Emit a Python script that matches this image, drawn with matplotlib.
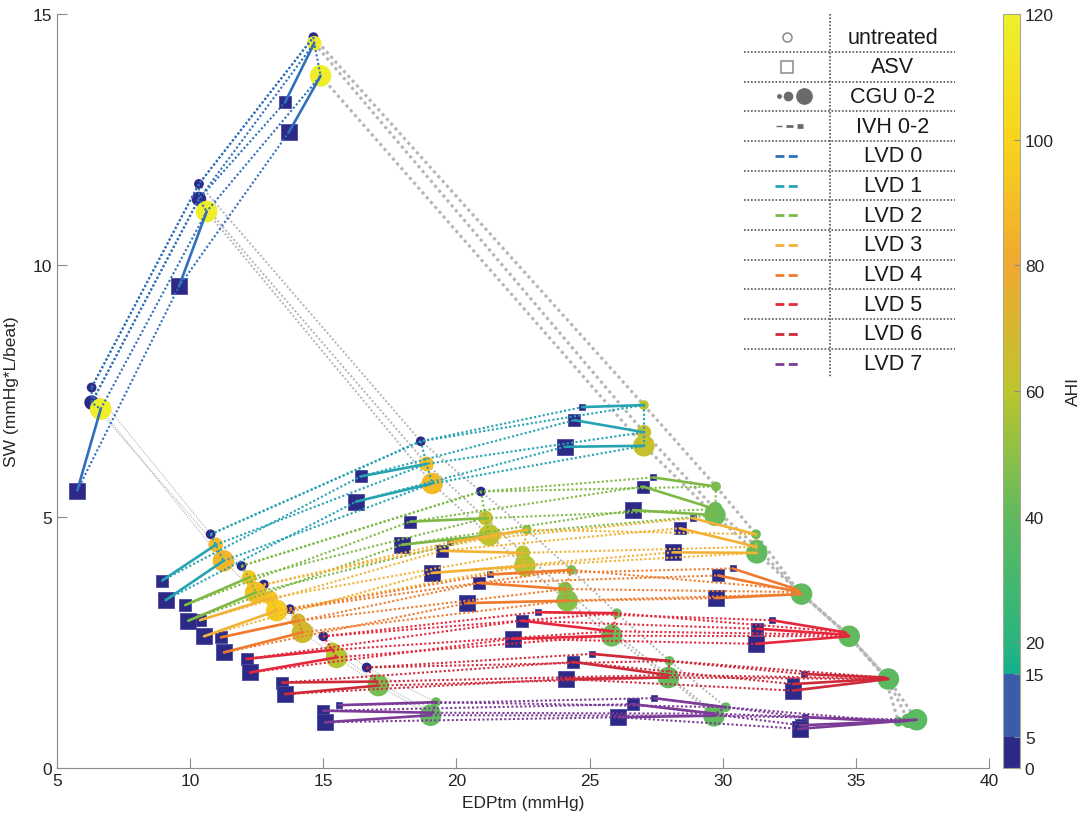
import numpy as np
import matplotlib
matplotlib.use("Agg")
import matplotlib.pyplot as plt
from matplotlib.colors import LinearSegmentedColormap, ListedColormap, Normalize
from matplotlib.cm import ScalarMappable

plt.rcParams["font.family"] = ["Liberation Sans", "DejaVu Sans"]

nan = np.nan

# untreated operating points, indexed [LVD][IVH][CGU]
untreated_edp = np.array([
    [[6.30, 6.30, 6.64], [10.33, 10.33, 10.62], [14.63, 14.66, 14.90]],
    [[10.77, 10.96, 11.25], [18.66, 18.88, 19.09], [27.04, 27.04, 27.04]],
    [[11.93, 12.21, 12.46], [20.92, 21.10, 21.23], [29.75, 29.72, 29.71]],
    [[12.77, 13.02, 13.25], [22.64, 22.49, 22.57], [31.25, 31.27, 31.28]],
    [[13.75, 14.06, 14.22], [24.32, 24.08, 24.16], [32.80, 32.88, 32.96]],
    [[15.00, 15.35, 15.50], [26.02, 25.85, 25.83], [34.60, 34.70, 34.75]],
    [[16.63, 17.00, 17.07], [28.00, 27.95, 27.96], [36.10, 36.18, 36.22]],
    [[19.23, 19.10, 19.03], [30.12, 29.72, 29.67], [36.60, 36.97, 37.28]],
])
untreated_sw = np.array([
    [[7.57, 7.27, 7.14], [11.62, 11.32, 11.07], [14.54, 14.42, 13.77]],
    [[4.65, 4.44, 4.12], [6.50, 6.05, 5.66], [7.22, 6.68, 6.41]],
    [[4.02, 3.79, 3.49], [5.50, 4.97, 4.63], [5.60, 5.15, 5.03]],
    [[3.65, 3.38, 3.13], [4.74, 4.28, 4.02], [4.65, 4.40, 4.28]],
    [[3.16, 2.93, 2.70], [3.94, 3.56, 3.33], [3.55, 3.50, 3.46]],
    [[2.62, 2.35, 2.20], [3.08, 2.72, 2.63], [2.70, 2.65, 2.62]],
    [[2.00, 1.72, 1.64], [2.13, 1.85, 1.80], [1.80, 1.78, 1.77]],
    [[1.31, 1.10, 1.05], [1.21, 1.08, 1.04], [0.92, 0.94, 0.96]],
])
untreated_ahi = np.array([
    [[2, 3, 118], [2, 3, 118], [2, 115, 118]],
    [[2, 88, 86], [2, 90, 88], [62, 64, 63]],
    [[2, 92, 90], [2, 63, 62], [45, 42, 42]],
    [[2, 93, 95], [50, 58, 58], [42, 40, 40]],
    [[2, 70, 67], [45, 48, 48], [40, 40, 40]],
    [[2, 58, 58], [42, 42, 42], [40, 40, 40]],
    [[2, 45, 45], [42, 40, 40], [38, 38, 38]],
    [[42, 40, 40], [40, 40, 40], [38, 38, 38]],
], dtype=float)

# ASV operating points (nan: ASV leaves the point where it was)
asv_edp = np.array([
    [[nan, nan, 5.76], [nan, nan, 9.58], [nan, 13.56, 13.71]],
    [[nan, 8.95, 9.08], [nan, 16.40, 16.23], [24.73, 24.43, 24.08]],
    [[nan, 9.81, 9.93], [nan, 18.26, 17.94], [27.39, 27.00, 26.64]],
    [[nan, 10.37, 10.52], [19.76, 19.44, 19.07], [28.87, 28.39, 28.14]],
    [[nan, 11.16, 11.27], [21.26, 20.85, 20.41], [30.37, 29.83, 29.75]],
    [[nan, 12.12, 12.25], [23.05, 22.45, 22.11], [31.84, 31.30, 31.25]],
    [[nan, 13.46, 13.56], [25.10, 24.39, 24.11], [33.05, 32.65, 32.65]],
    [[15.60, 15.00, 15.06], [27.42, 26.62, 26.08], [33.09, 32.95, 32.90]],
])
asv_sw = np.array([
    [[nan, nan, 5.52], [nan, nan, 9.58], [nan, 13.24, 12.65]],
    [[nan, 3.73, 3.34], [nan, 5.80, 5.30], [7.18, 6.92, 6.39]],
    [[nan, 3.24, 2.93], [nan, 4.90, 4.44], [5.78, 5.60, 5.13]],
    [[nan, 2.94, 2.62], [4.49, 4.32, 3.88], [4.97, 4.77, 4.29]],
    [[nan, 2.60, 2.30], [3.85, 3.68, 3.28], [3.97, 3.83, 3.38]],
    [[nan, 2.17, 1.90], [3.10, 2.93, 2.57], [2.94, 2.77, 2.47]],
    [[nan, 1.70, 1.47], [2.27, 2.11, 1.77], [1.87, 1.67, 1.54]],
    [[1.25, 1.14, 0.91], [1.39, 1.27, 1.01], [1.01, 0.85, 0.78]],
])
asv_ahi = 2.0

lvd_labels = ["LVD 0", "LVD 1", "LVD 2", "LVD 3", "LVD 4", "LVD 5", "LVD 6", "LVD 7"]
lvd_colors = ["#2f6fbc", "#25a3b3", "#7db944", "#f2b236", "#f07b2e", "#e6283c", "#cf2a3a", "#7b3b97"]
cbar_ticks = [0, 5, 15, 20, 40, 60, 80, 100, 120]

circle_ms = [6.0, 9.5, 14.5]
square_ms = [5.0, 8.0, 11.5]
ivh_widths = [0.8, 1.4, 2.2]
DOT = (0, (1, 1.1))


def build_ahi_cmap():
    stops = [(15, "#12b08e"), (20, "#2ab57e"), (40, "#60ba5e"), (60, "#bcc52e"),
             (80, "#f0a830"), (100, "#f8d41c"), (120, "#eef02a")]
    grad = LinearSegmentedColormap.from_list(
        "ahi_grad", [((v - 15) / 105, c) for v, c in stops])
    samples = np.arange(0, 120, 0.25) + 0.125
    colors = []
    for s in samples:
        if s < 5:
            colors.append("#2c2a86")
        elif s < 15:
            colors.append("#3c5ba8")
        else:
            colors.append(grad((s - 15) / 105))
    return ListedColormap(colors), Normalize(0, 120)


cmap, norm = build_ahi_cmap()

fig = plt.figure(figsize=(10.84, 8.2), dpi=100)
ax = fig.add_axes([57 / 1084, 51 / 820, 932 / 1084, 754 / 820])
cax = fig.add_axes([1003 / 1084, 51 / 820, 17 / 1084, 754 / 820])

# ASV falls back to the untreated point when it has no effect
path_edp = np.where(np.isnan(asv_edp), untreated_edp, asv_edp)
path_sw = np.where(np.isnan(asv_sw), untreated_sw, asv_sw)

# grey links between LVD levels, width by IVH
for k in range(3):
    for c in range(3):
        ax.plot(untreated_edp[:, k, c], untreated_sw[:, k, c], ls=DOT,
                color="#b5b5b5", lw=ivh_widths[k], zorder=1.5)

for L in range(8):
    col = lvd_colors[L]
    ux, uy = untreated_edp[L], untreated_sw[L]
    px, py = path_edp[L], path_sw[L]
    for c in range(3):
        ax.plot(ux[:, c], uy[:, c], ls=DOT, color=col, lw=1.5, zorder=3)
        ax.plot(px[:, c], py[:, c], ls=DOT, color=col, lw=1.5, zorder=3)
    for k in range(3):
        ax.plot(ux[k], uy[k], ls=DOT, color=col, lw=1.5, zorder=3)
        for c in range(3):
            if np.isnan(asv_edp[L, k, c]):
                continue
            ax.plot([ux[k, c], asv_edp[L, k, c]], [uy[k, c], asv_sw[L, k, c]],
                    color=col, lw=1.9, solid_capstyle="round", zorder=3.2)

for c in range(3):
    ax.scatter(asv_edp[:, :, c].ravel(), asv_sw[:, :, c].ravel(), marker="s",
               s=square_ms[c] ** 2, color=cmap(norm(asv_ahi)),
               edgecolors="#4a4aa0", linewidths=0.6, zorder=2)
for c in range(3):
    ax.scatter(untreated_edp[:, :, c].ravel(), untreated_sw[:, :, c].ravel(),
               marker="o", s=circle_ms[c] ** 2, c=untreated_ahi[:, :, c].ravel(),
               cmap=cmap, norm=norm, edgecolors="face", zorder=2.2)

ax.set_xlim(5, 40)
ax.set_ylim(0, 15)
ax.set_xticks(range(5, 41, 5))
ax.set_yticks([0, 5, 10, 15])
for side in ("top", "right"):
    ax.spines[side].set_visible(False)
for side in ("left", "bottom"):
    ax.spines[side].set_color("#8c8c8c")
ax.tick_params(direction="in", length=7, width=0.8, color="#8c8c8c",
               labelsize=12.5, labelcolor="#262626")
ax.set_xlabel("EDPtm (mmHg)", fontsize=12.5, color="#262626", labelpad=5)
ax.set_ylabel("SW (mmHg*L/beat)", fontsize=12.5, color="#262626", labelpad=10)

cb = fig.colorbar(ScalarMappable(norm=norm, cmap=cmap), cax=cax, ticks=cbar_ticks)
cb.outline.set_edgecolor("#a8a890")
cb.outline.set_linewidth(0.8)
cax.tick_params(direction="in", length=4, width=0.8, color="#8c8c8c",
                labelsize=12.5, labelcolor="#262626")
cb.set_label("AHI", fontsize=12.5, color="#262626", labelpad=9)

# table-style key in pixel units
lg = fig.add_axes([740 / 1084, (820 - 380) / 820, 220 / 1084, 365 / 820])
lg.set_xlim(740, 960)
lg.set_ylim(380, 15)
lg.axis("off")
row_y = [38 + 29.7 * i for i in range(12)]
row_text = ["untreated", "ASV", "CGU 0-2", "IVH 0-2"] + lvd_labels
for i, (y, t) in enumerate(zip(row_y, row_text)):
    lg.text(893, y, t, ha="center", va="center", fontsize=15.5, color="#1a1a1a")
    if i < 11:
        lg.plot([744, 955], [y + 14.8, y + 14.8], ls=DOT, color="#555555", lw=1.2)
lg.plot([830, 830], [15, 379], ls=DOT, color="#555555", lw=1.2)
lg.plot([787], [row_y[0]], marker="o", ms=6.5, mfc="white", mec="#8a8a8a", mew=1.1)
lg.plot([787], [row_y[1]], marker="s", ms=8, mfc="white", mec="#8a8a8a", mew=1.1)
for xx, ms in zip([779, 788, 804], [2.5, 6, 11]):
    lg.plot([xx], [row_y[2]], marker="o", ms=ms, color="#6a6a6a")
for (x0, x1), w in zip([(776, 782), (786, 793), (797, 803)], [1.0, 2.0, 3.4]):
    lg.plot([x0, x1], [row_y[3], row_y[3]], color="#6a6a6a", lw=w, solid_capstyle="butt")
for i, col in enumerate(lvd_colors):
    lg.plot([775, 801], [row_y[4 + i]] * 2, color=col, lw=2, ls=(0, (3.2, 1.6)))

fig.savefig("out.png", dpi=100)
